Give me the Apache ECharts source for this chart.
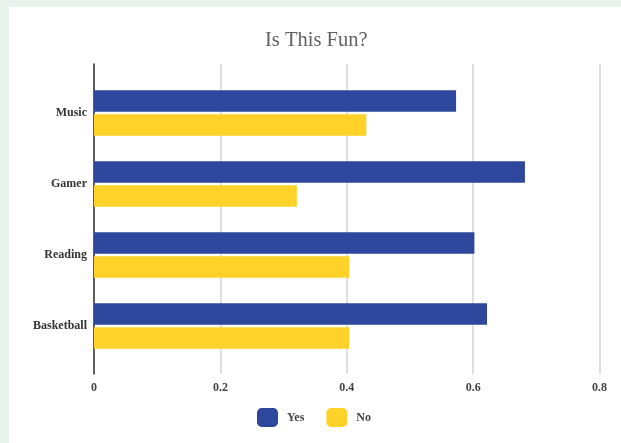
<!DOCTYPE html>
<html>
<head>
<meta charset="utf-8">
<script src="https://cdn.jsdelivr.net/npm/echarts@6/dist/echarts.min.js"></script>
<style>
html,body{margin:0;padding:0;background:#e8f2ed;}
#chart{width:621px;height:443px;}
</style>
</head>
<body>
<div id="chart"></div>
<script>
const titleText = "Is This Fun?";
const categories = ["Music", "Gamer", "Reading", "Basketball"];
const yesValues = [0.573, 0.682, 0.602, 0.622];
const noValues = [0.431, 0.321, 0.404, 0.404];
const seriesNames = ["Yes", "No"];
const xTicks = [0, 0.2, 0.4, 0.6, 0.8];

const FONT = "Liberation Serif";
const chart = echarts.init(document.getElementById('chart'));
const plotLeft = 94, plotWidth = 505.5;

chart.setOption({
  backgroundColor: '#e8f2ed',
  animation: false,
  graphic: [{
    type: 'rect', z: -10, silent: true,
    shape: {x: 9, y: 7, width: 620, height: 440},
    style: {fill: '#ffffff'}
  }],
  title: {
    text: titleText, left: 265, top: 30, padding: 0,
    textStyle: {fontFamily: FONT, fontSize: 20.5, fontWeight: 'normal', color: '#626262'}
  },
  legend: {
    data: seriesNames, left: 257, top: 408, padding: 0, icon: 'roundRect',
    itemWidth: 21, itemHeight: 19, itemGap: 22,
    textStyle: {fontFamily: FONT, fontSize: 12, fontWeight: 'bold', color: '#444', padding: [0, 0, 0, 4]}
  },
  grid: [
    {left: plotLeft, top: 64, width: plotWidth, height: 310},
    {left: plotLeft, top: 77.5, width: plotWidth, height: 284}
  ],
  xAxis: [
    {gridIndex: 0, type: 'value', min: 0, max: 0.8, interval: 0.2,
     axisLine: {show: false}, axisTick: {show: false},
     splitLine: {lineStyle: {color: '#d4d4d4', width: 1.5}},
     axisLabel: {margin: 8, fontFamily: FONT, fontSize: 12, fontWeight: 'bold', color: '#444',
       formatter: v => { const i = xTicks.findIndex(t => Math.abs(t - v) < 1e-9); return i >= 0 ? String(xTicks[i]) : ''; }}},
    {gridIndex: 1, type: 'value', min: 0, max: 0.8, show: false}
  ],
  yAxis: [
    {gridIndex: 0, type: 'value', min: 0, max: 1,
     axisLine: {show: true, lineStyle: {color: '#333', width: 1.5}},
     axisTick: {show: false}, axisLabel: {show: false}, splitLine: {show: false}},
    {gridIndex: 1, type: 'category', data: categories, inverse: true,
     axisLine: {show: false}, axisTick: {show: false},
     axisLabel: {margin: 7, fontFamily: FONT, fontSize: 12, fontWeight: 'bold', color: '#333'}}
  ],
  series: [
    {name: seriesNames[0], type: 'bar', xAxisIndex: 1, yAxisIndex: 1, data: yesValues,
     barWidth: 21.5, barGap: '12%', itemStyle: {color: '#2c479b'}},
    {name: seriesNames[1], type: 'bar', xAxisIndex: 1, yAxisIndex: 1, data: noValues,
     barWidth: 21.5, barGap: '12%', itemStyle: {color: '#fed228'}}
  ]
});
</script>
</body>
</html>
